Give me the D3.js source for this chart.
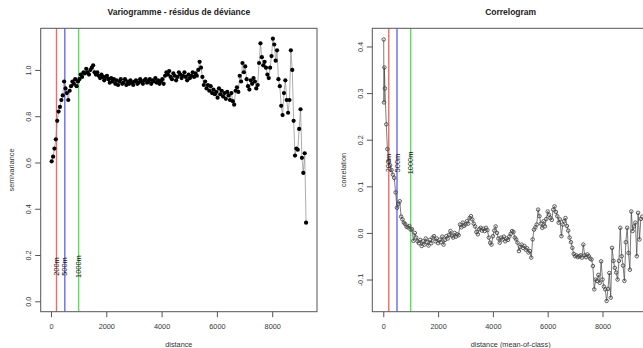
<!DOCTYPE html>
<html>
<head>
<meta charset="utf-8">
<script src="https://cdnjs.cloudflare.com/ajax/libs/d3/7.8.5/d3.min.js"></script>
<style>
	body { margin: 0; background: #fff; }
	svg text { font-family: "Liberation Sans", Arial, sans-serif; }
</style>
</head>
<body>
<div id="chart"></div>
<script>
'use strict';

// distance classes of the variogram (m)
var lagDist = [
	25, 75, 125, 175, 225, 275, 325, 375, 425, 475,
	525, 575, 625, 675, 725, 775, 825, 875, 925, 975,
	1025, 1075, 1125, 1175, 1225, 1275, 1325, 1375, 1425, 1475,
	1525, 1575, 1625, 1675, 1725, 1775, 1825, 1875, 1925, 1975,
	2025, 2075, 2125, 2175, 2225, 2275, 2325, 2375, 2425, 2475,
	2525, 2575, 2625, 2675, 2725, 2775, 2825, 2875, 2925, 2975,
	3025, 3075, 3125, 3175, 3225, 3275, 3325, 3375, 3425, 3475,
	3525, 3575, 3625, 3675, 3725, 3775, 3825, 3875, 3925, 3975,
	4025, 4075, 4125, 4175, 4225, 4275, 4325, 4375, 4425, 4475,
	4525, 4575, 4625, 4675, 4725, 4775, 4825, 4875, 4925, 4975,
	5025, 5075, 5125, 5175, 5225, 5275, 5325, 5375, 5425, 5475,
	5525, 5575, 5625, 5675, 5725, 5775, 5825, 5875, 5925, 5975,
	6025, 6075, 6125, 6175, 6225, 6275, 6325, 6375, 6425, 6475,
	6525, 6575, 6625, 6675, 6725, 6775, 6825, 6875, 6925, 6975,
	7025, 7075, 7125, 7175, 7225, 7275, 7325, 7375, 7425, 7475,
	7525, 7575, 7625, 7675, 7725, 7775, 7825, 7875, 7925, 7975,
	8025, 8075, 8125, 8175, 8225, 8275, 8325, 8375, 8425, 8475,
	8525, 8575, 8625, 8675, 8725, 8775, 8825, 8875, 8925, 8975,
	9025, 9075, 9125, 9175, 9225
];

// semivariance of the deviance residuals
var semivar = [
	0.605, 0.625, 0.66, 0.70, 0.78, 0.82, 0.84, 0.87, 0.89, 0.95,
	0.92, 0.90, 0.87, 0.91, 0.93, 0.95, 0.94, 0.96, 0.93, 0.95,
	0.96, 0.98, 0.97, 0.99, 0.985, 1.005, 0.99, 0.98, 1.0, 1.01,
	1.02, 0.99, 0.98, 0.99, 0.975, 0.965, 0.98, 0.97, 0.955, 0.97,
	0.975, 0.96, 0.945, 0.965, 0.95, 0.96, 0.94, 0.955, 0.935, 0.95,
	0.96, 0.94, 0.945, 0.96, 0.935, 0.95, 0.94, 0.955, 0.945, 0.935,
	0.95, 0.955, 0.94, 0.945, 0.96, 0.95, 0.94, 0.955, 0.96, 0.945,
	0.95, 0.96, 0.94, 0.955, 0.95, 0.965, 0.945, 0.955, 0.94, 0.95,
	0.96, 0.94, 0.975, 0.99, 0.98, 0.995, 0.97, 0.96, 0.985, 0.975,
	0.955, 0.97, 0.99, 0.98, 0.965, 0.975, 0.99, 0.97, 0.955, 0.98,
	0.965, 0.975, 0.99, 0.97, 0.985, 0.975, 1.00, 1.035, 1.01, 0.97,
	0.935, 0.95, 0.92, 0.935, 0.91, 0.93, 0.90, 0.915, 0.895, 0.905,
	0.88, 0.92, 0.895, 0.91, 0.885, 0.90, 0.875, 0.905, 0.89, 0.87,
	0.90, 0.865, 0.85, 0.91, 0.925, 0.905, 0.975, 0.95, 1.03, 0.99,
	1.015, 0.96, 0.93, 0.915, 0.955, 0.94, 0.965, 0.95, 0.92, 0.935,
	1.03, 1.115, 1.055, 1.02, 1.035, 1.01, 0.98, 0.965, 1.01, 1.06,
	1.135, 1.11, 1.04, 1.085, 0.96, 0.93, 0.845, 0.805, 0.90, 0.955,
	0.87, 0.815, 0.87, 1.085, 1.0, 0.78, 0.63, 0.66, 0.655, 0.745,
	0.83, 0.62, 0.555, 0.64, 0.34
];

// mean distance of each correlogram class (m)
var corDist = [
	15, 25, 40, 60, 110,
	150, 200, 250, 300, 350, 400, 450, 500, 550, 600,
	650, 700, 750, 800, 850, 900, 950, 1000, 1050, 1100,
	1150, 1200, 1250, 1300, 1350, 1400, 1450, 1500, 1550, 1600,
	1650, 1700, 1750, 1800, 1850, 1900, 1950, 2000, 2050, 2100,
	2150, 2200, 2250, 2300, 2350, 2400, 2450, 2500, 2550, 2600,
	2650, 2700, 2750, 2800, 2850, 2900, 2950, 3000, 3050, 3100,
	3150, 3200, 3250, 3300, 3350, 3400, 3450, 3500, 3550, 3600,
	3650, 3700, 3750, 3800, 3850, 3900, 3950, 4000, 4050, 4100,
	4150, 4200, 4250, 4300, 4350, 4400, 4450, 4500, 4550, 4600,
	4650, 4700, 4750, 4800, 4850, 4900, 4950, 5000, 5050, 5100,
	5150, 5200, 5250, 5300, 5350, 5400, 5450, 5500, 5550, 5600,
	5650, 5700, 5750, 5800, 5850, 5900, 5950, 6000, 6050, 6100,
	6150, 6200, 6250, 6300, 6350, 6400, 6450, 6500, 6550, 6600,
	6650, 6700, 6750, 6800, 6850, 6900, 6950, 7000, 7050, 7100,
	7150, 7200, 7250, 7300, 7350, 7400, 7450, 7500, 7550, 7600,
	7650, 7700, 7750, 7800, 7850, 7900, 7950, 8000, 8050, 8100,
	8150, 8200, 8250, 8300, 8350, 8400, 8450, 8500, 8550, 8600,
	8650, 8700, 8750, 8800, 8850, 8900, 8950, 9000, 9050, 9100,
	9150, 9200, 9250, 9300, 9350, 9400, 9450
];

// Moran correlation per class
var corr = [
	0.415, 0.28, 0.355, 0.31, 0.233,
	0.18, 0.155, 0.145, 0.135, 0.125, 0.118, 0.087, 0.054, 0.062, 0.068,
	0.035, 0.029, 0.022, 0.019, 0.013, 0.012, 0.015, 0.007, 0.008, -0.017,
	0.0, -0.01, -0.018, -0.022, -0.015, -0.028, -0.018, -0.025, -0.012, -0.02,
	-0.027, -0.015, -0.022, -0.01, -0.007, -0.018, -0.012, -0.022, -0.015, -0.02,
	-0.008, -0.025, -0.015, -0.007, -0.012, -0.004, 0.004, -0.006, -0.01, 0.0,
	-0.008, -0.003, -0.005, 0.018, 0.012, 0.022, 0.015, 0.018, 0.025, 0.02,
	0.032, 0.036, 0.029, 0.02, 0.014, 0.002, -0.003, 0.008, 0.011, 0.005,
	0.009, 0.004, 0.011, 0.006, -0.01, -0.021, -0.025, -0.007, 0.005, 0.014,
	0.0, -0.012, -0.021, -0.01, -0.014, -0.008, -0.018, -0.012, -0.015, -0.008,
	-0.002, 0.004, 0.002, -0.01, -0.014, -0.021, -0.039, -0.03, -0.025, -0.032,
	-0.028, -0.036, -0.033, -0.042, -0.039, -0.053, -0.014, 0.007, 0.012, 0.018,
	0.05, 0.036, 0.02, 0.011, 0.025, 0.014, 0.03, 0.046, 0.039, 0.032,
	0.028, 0.05, 0.057, 0.045, 0.036, 0.022, 0.029, -0.007, 0.018, 0.025,
	0.032, 0.015, 0.005, -0.01, -0.02, -0.032, -0.045, -0.05, -0.048, -0.052,
	-0.05, -0.048, -0.053, -0.025, -0.048, -0.052, -0.046, -0.05, -0.055, -0.057,
	-0.071, -0.121, -0.1, -0.103, -0.09, -0.107, -0.061, -0.1, -0.115, -0.121,
	-0.146, -0.12, -0.086, -0.139, -0.032, -0.06, -0.075, -0.085, -0.1, -0.06,
	0.011, -0.05, -0.07, -0.103, -0.02, 0.011, -0.043, -0.079, 0.046, 0.004,
	0.014, 0.022, -0.05, 0.043, -0.014, 0.03, 0.035
];

var distTicks = [0, 2000, 4000, 6000, 8000];
var semiTicks = [0, 0.2, 0.4, 0.6, 0.8, 1.0];
var corTicks  = [-0.1, 0, 0.1, 0.2, 0.3, 0.4];

// reference distances
var refDist   = [200, 500, 1000];
var refLabels = ['200m', '500m', '1000m'];
var refColors = ['#ef6a6a', '#6a6aee', '#5fdc5f'];
var refLabelY = 0.15;

var svg = d3.select('#chart')
	.append('svg')
	.attr('width', 643)
	.attr('height', 348);

function PlotLagChart(config, dist, vals) {
	var box = config.box;
	var g = svg.append('g');

	var x = d3.scaleLinear().domain(config.xDomain).range([box.left, box.right]);
	var y = d3.scaleLinear().domain(config.yDomain).range([box.bottom, box.top]);

	var pts = vals.map(function(v, i) { return {d: dist[i], v: v}; });

	var clipId = config.id + '-clip';
	g.append('clipPath').attr('id', clipId)
		.append('rect')
		.attr('x', box.left).attr('y', box.top)
		.attr('width', box.right - box.left).attr('height', box.bottom - box.top);

	var plot = g.append('g').attr('clip-path', 'url(#' + clipId + ')');

	// reference lines
	plot.selectAll('.ref')
		.data(refDist)
		.enter().append('line')
		.attr('class', 'ref')
		.attr('x1', function(d) { return x(d); })
		.attr('x2', function(d) { return x(d); })
		.attr('y1', box.top)
		.attr('y2', box.bottom)
		.style('stroke', function(d, i) { return refColors[i]; })
		.style('stroke-width', 1.4);

	// series
	plot.append('path')
		.datum(pts)
		.attr('d', d3.line().x(function(d) { return x(d.d); }).y(function(d) { return y(d.v); }))
		.style('fill', 'none')
		.style('stroke', config.lineColor)
		.style('stroke-width', 0.7);

	plot.selectAll('.pt')
		.data(pts)
		.enter().append('circle')
		.attr('class', 'pt')
		.attr('cx', function(d) { return x(d.d); })
		.attr('cy', function(d) { return y(d.v); })
		.attr('r', config.radius)
		.style('fill', config.pointFill)
		.style('stroke', config.pointStroke)
		.style('stroke-width', 0.9);

	// reference labels
	g.selectAll('.reflab')
		.data(refDist)
		.enter().append('text')
		.attr('class', 'reflab')
		.attr('transform', function(d) { return 'translate(' + x(d) + ',' + y(refLabelY) + ') rotate(-90)'; })
		.attr('dy', '0.35em')
		.style('text-anchor', 'middle')
		.style('font-size', '7.4px')
		.style('fill', '#111')
		.text(function(d, i) { return refLabels[i]; });

	// box
	g.append('rect')
		.attr('x', box.left).attr('y', box.top)
		.attr('width', box.right - box.left).attr('height', box.bottom - box.top)
		.style('fill', 'none')
		.style('stroke', '#555')
		.style('stroke-width', 1);

	// axes
	var gx = g.append('g')
		.attr('transform', 'translate(0,' + box.bottom + ')')
		.call(d3.axisBottom(x).tickValues(distTicks).tickSize(5.5).tickPadding(7)
			.tickFormat(function(d) { return String(d); }));
	gx.select('.domain').remove();
	gx.selectAll('line').style('stroke', '#555');
	gx.selectAll('text').style('font-size', '7.3px').style('fill', '#333');

	var gy = g.append('g')
		.attr('transform', 'translate(' + box.left + ',0)')
		.call(d3.axisLeft(y).tickValues(config.yTicks).tickSize(5.5)
			.tickFormat(function(d) { return d.toFixed(1); }));
	gy.select('.domain').remove();
	gy.selectAll('line').style('stroke', '#555');
	gy.selectAll('text')
		.attr('x', 0)
		.attr('dy', 0)
		.attr('transform', 'translate(-9.5,0) rotate(-90)')
		.style('text-anchor', 'middle')
		.style('font-size', '7.3px')
		.style('fill', '#333');

	// titles
	var cx = (box.left + box.right) / 2;
	g.append('text')
		.attr('x', cx).attr('y', 15)
		.style('text-anchor', 'middle')
		.style('font-weight', 'bold')
		.style('font-size', '8.5px')
		.style('fill', '#222')
		.text(config.title);

	g.append('text')
		.attr('x', cx).attr('y', 346.5)
		.style('text-anchor', 'middle')
		.style('font-size', '7.3px')
		.style('fill', '#333')
		.text(config.xLabel);

	g.append('text')
		.attr('transform', 'translate(' + (box.left - 26.5) + ',' + ((box.top + box.bottom) / 2) + ') rotate(-90)')
		.style('text-anchor', 'middle')
		.style('font-size', '7.3px')
		.style('fill', '#333')
		.text(config.yLabel);
}

PlotLagChart({
	id: 'vario',
	box: {left: 40.7, right: 317, top: 28.3, bottom: 311.7},
	xDomain: [-372, 9620],
	yDomain: [-0.045, 1.18],
	yTicks: semiTicks,
	title: 'Variogramme - résidus de déviance',
	xLabel: 'distance',
	yLabel: 'semivariance',
	lineColor: '#8a8a8a',
	pointFill: '#000',
	pointStroke: 'none',
	radius: 2.1
}, lagDist, semivar);

PlotLagChart({
	id: 'correl',
	box: {left: 372.3, right: 649, top: 28.3, bottom: 311.7},
	xDomain: [-401, 9697],
	yDomain: [-0.169, 0.439],
	yTicks: corTicks,
	title: 'Correlogram',
	xLabel: 'distance (mean-of-class)',
	yLabel: 'correlation',
	lineColor: '#444',
	pointFill: 'none',
	pointStroke: '#4a4a4a',
	radius: 1.75
}, corDist, corr);
</script>
</body>
</html>
